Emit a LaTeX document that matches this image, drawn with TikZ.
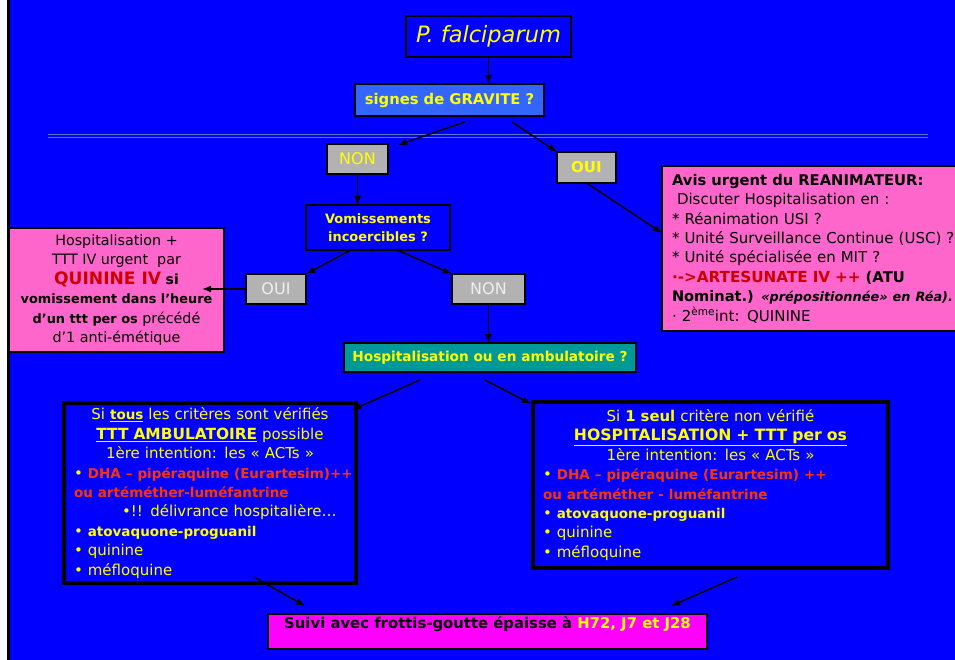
\documentclass[tikz,border=0pt]{standalone}
\usepackage{fontspec}
\setmainfont{DejaVu Sans}[BoldFeatures={Scale=0.9},BoldItalicFeatures={Scale=0.9}]
\usetikzlibrary{arrows.meta,calc}
\definecolor{bg}{HTML}{0000FF}
\definecolor{yel}{HTML}{FFFF00}
\definecolor{pinkb}{HTML}{FF66CC}
\definecolor{magb}{HTML}{FF00FF}
\definecolor{grayb}{HTML}{B2B2B2}
\definecolor{tealb}{HTML}{009999}
\definecolor{lblue}{HTML}{3366FF}
\definecolor{redA}{HTML}{FF3300}
\definecolor{redB}{HTML}{CC0000}
\definecolor{dline}{HTML}{5A78C8}
\definecolor{lightt}{HTML}{EEEEEE}
\newcommand{\fsz}[1]{\fontsize{#1}{19.4}\selectfont}
\begin{document}
\begin{tikzpicture}[x=1pt,y=-1pt,
  box/.style={draw=black, line width=2pt, inner sep=0pt, outer sep=0pt},
  bigbox/.style={draw=black, line width=3.5pt, fill=bg, outer sep=0pt, inner ysep=0pt, inner xsep=10pt, align=left, text=yel},
  graybox/.style={box, fill=grayb},
  arr/.style={-{Latex[length=9pt,width=7pt]}, line width=1.5pt, black},
  txt/.style={font=\fontsize{15}{19.4}\selectfont},
  txtw/.style={txt, execute at begin node={\setlength{\parindent}{0pt}\setlength{\parskip}{0pt}\hbadness=10000\hfuzz=200pt}}
]
\useasboundingbox (0,0) rectangle (955,660);
\fill[bg] (0,0) rectangle (955,660);
\fill[white] (0,0) rectangle (7,660);
\fill[black] (7,0) rectangle (10,660);
% double line
\draw[dline, line width=1.2pt] (48,134.7) -- (928,134.7);
\draw[dline, line width=1.2pt] (48,137.4) -- (928,137.4);

% nodes
\node[box, fill=bg, text=yel, minimum width=165, minimum height=41, font=\fontsize{22.5}{26}\selectfont\itshape] (falc) at (488.5,36.5) {P. falciparum};
\node[box, fill=lblue, text=yel, minimum width=189, minimum height=32, font=\fontsize{16.4}{18}\selectfont\bfseries] (sig) at (449.5,100) {signes de GRAVITE ?};
\node[graybox, text=yel, minimum width=61, minimum height=30, font=\fontsize{16}{18}\selectfont] (non1) at (357.5,159) {NON};
\node[graybox, text=yel, minimum width=59, minimum height=31, font=\fontsize{16.7}{18}\selectfont\bfseries] (oui1) at (586.5,167.5) {OUI};
\node[box, fill=bg, text=yel, minimum width=144, minimum height=45, align=center, font=\fontsize{14.4}{18}\selectfont\bfseries] (vom) at (378,227.5) {Vomissements\\incoercibles ?};
\node[graybox, text=lightt, minimum width=60, minimum height=30, font=\fontsize{16}{18}\selectfont] (oui2) at (276,289) {OUI};
\node[graybox, text=lightt, minimum width=73, minimum height=30, font=\fontsize{16}{18}\selectfont] (non2) at (488.5,289) {NON};
\node[box, fill=tealb, text=yel, minimum width=292, minimum height=29, font=\fontsize{15.2}{18}\selectfont\bfseries] (hosp) at (490,357.5) {Hospitalisation ou en ambulatoire ?};

\node[box, fill=pinkb, text=black, minimum width=215, minimum height=123, align=center, font=\fontsize{14.3}{19.5}\selectfont] (pinkL) at (116.5,290)
 {Hospitalisation +\\TTT IV urgent\ \ par\\\textcolor{redB}{\bfseries\fsz{19}QUININE IV} {\bfseries\fsz{15.5}si}\\\textbf{vomissement dans l’heure}\\\textbf{d’un ttt per os} précédé\\d’1 anti-émétique};

\node[box, fill=pinkb, text=black, minimum width=303, minimum height=165, inner xsep=10pt, text width=283pt, align=left, txtw] (pinkR) at (813.5,248.5)
 {\mbox{\bfseries\fsz{16.4}Avis urgent du REANIMATEUR:}\par
  \mbox{\ Discuter Hospitalisation en :}\par
  \mbox{* Réanimation USI ?}\par
  \mbox{* Unité Surveillance Continue (USC) ?}\par
  \mbox{* Unité spécialisée en MIT ?}\par
  \mbox{\textcolor{redB}{\bfseries\fsz{16.9}·->ARTESUNATE IV ++} {\bfseries\fsz{16.4}(ATU}}\par
  \mbox{{\bfseries\fsz{16.2}Nominat.)} {\bfseries\itshape\fsz{14.3}«prépositionnée» en Réa).}}\par
  \mbox{· 2\textsuperscript{ème}int: QUININE}};

\node[bigbox, minimum width=292, minimum height=180, text width=272pt, txtw] (bl) at (210,493)
 {{\centering \mbox{Si \textbf{\underline{tous}} les critères sont vérifiés}\par
  \mbox{{\bfseries\fsz{17.1}\underline{TTT AMBULATOIRE}} possible}\par
  \mbox{1ère intention: les « ACTs »}\par}
  \mbox{• \textcolor{redA}{\bfseries DHA – pipéraquine (Eurartesim)++}}\par
  \mbox{\textcolor{redA}{\bfseries ou artéméther-luméfantrine}}\par
  \mbox{\hspace*{48pt}•!! délivrance hospitalière…}\par
  \mbox{• \textbf{atovaquone-proguanil}}\par
  \mbox{• quinine}\par
  \mbox{• méfloquine}\par};

\node[bigbox, minimum width=355, minimum height=166, text width=335pt, txtw] (br) at (710.5,485)
 {{\centering \mbox{Si {\bfseries\fsz{16.5}1 seul} critère non vérifié}\par
  \mbox{{\bfseries\fsz{17.4}\underline{HOSPITALISATION + TTT per os}}}\par
  \mbox{1ère intention: les « ACTs »}\par}
  \mbox{• \textcolor{redA}{\bfseries DHA – pipéraquine (Eurartesim) ++}}\par
  \mbox{\textcolor{redA}{\bfseries ou artéméther - luméfantrine}}\par
  \mbox{• \textbf{atovaquone-proguanil}}\par
  \mbox{• quinine}\par
  \mbox{• méfloquine}\par};

\node[box, fill=magb, minimum width=439, minimum height=35, inner ysep=5pt, text height=9pt, text depth=16pt, font=\fontsize{16.5}{18}\selectfont\bfseries] (suivi) at (487.5,631.5)
 {Suivi avec frottis-goutte épaisse à \textcolor{yel}{H72, J7 et J28}};

% coordinates
\coordinate (s1) at (465,122);
\coordinate (n1t) at (398,145);
\coordinate (s2) at (512,122);
\coordinate (v1) at (351,250);
\coordinate (v2) at (397,250);
\coordinate (plt) at (202,289);
\coordinate (prt) at (662,233);
\coordinate (h1) at (420,380);
\coordinate (b1) at (352,410);
\coordinate (h2) at (485,380);
\coordinate (b2) at (531,404);
\coordinate (b3) at (254,577);
\coordinate (f1) at (305,606);
\coordinate (b4) at (737,577);
\coordinate (f2) at (671,606);

% arrows
\draw[arr] (falc.south) -- (falc.south |- sig.north);
\draw[arr] (s1) -- (n1t);
\draw[arr] (s2) -- (oui1.north west);
\draw[arr] (non1.south) -- (non1.south |- vom.north);
\draw[arr] (v1) -- (oui2.north east);
\draw[arr] (v2) -- (non2.north west);
\draw[arr] (oui2.west) -- (plt);
\draw[arr] (oui1.south) -- (prt);
\draw[arr] (non2.south) -- (non2.south |- hosp.north);
\draw[arr] (h1) -- (b1);
\draw[arr] (h2) -- (b2);
\draw[arr] (b3) -- (f1);
\draw[arr] (b4) -- (f2);
\end{tikzpicture}
\end{document}
